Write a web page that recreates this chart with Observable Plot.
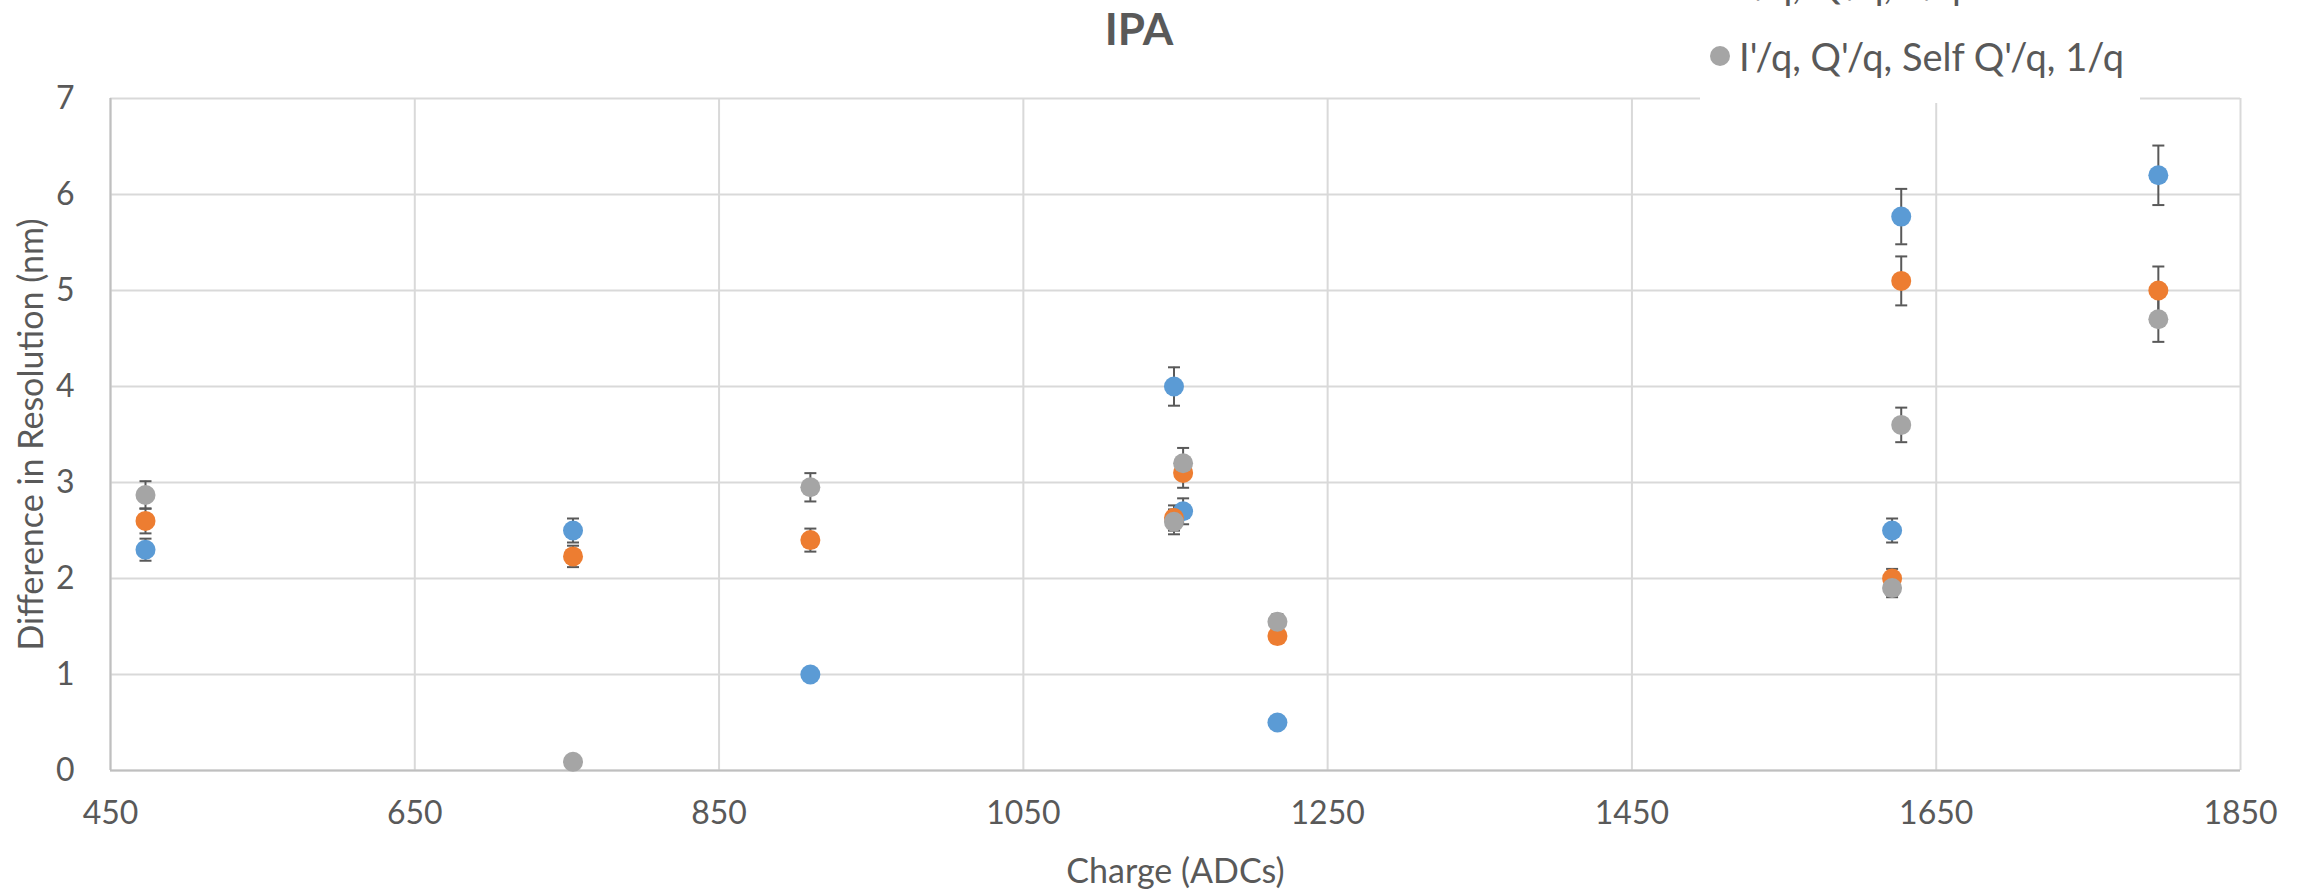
<!DOCTYPE html>
<html>
<head>
<meta charset="utf-8">
<script src="https://cdn.jsdelivr.net/npm/d3@7"></script>
<script src="https://cdn.jsdelivr.net/npm/@observablehq/plot@0.6"></script>
<style>
  html, body { margin: 0; padding: 0; background: #fff; overflow: hidden; }
  #wrap { position: relative; width: 2305px; height: 890px; overflow: hidden; font-family: Lato, "Open Sans", sans-serif; color: #595959; }
  #title { position: absolute; left: 1139px; top: 2px; transform: translateX(-50%); font-size: 44px; font-weight: bold; color: #595959; white-space: nowrap; }
  #legend { position: absolute; left: 1700px; width: 440px; background: #fff; }
  .entry { height: 72px; display: flex; align-items: center; font-size: 38px; color: #595959; white-space: nowrap; }
  .mk { width: 20px; height: 20px; border-radius: 50%; margin-left: 10px; margin-right: 9px; flex: none; }
</style>
</head>
<body>
<div id="wrap">
  <div id="chart"></div>
  <div id="title"></div>
  <div id="legend"></div>
</div>
<script>
// ---- data ----
const chartTitle = "IPA";
const xLabel = "Charge (ADCs)";
const yLabel = "Difference in Resolution (nm)";
const seriesNames = ["I'/q, Q'/q", "I'/q, Q'/q, 1/q", "I'/q, Q'/q, Self Q'/q, 1/q"];
const seriesColors = ["#5B9BD5", "#ED7D31", "#A5A5A5"];
const charge = [473, 754, 910, 1149, 1155, 1217, 1621, 1627, 1796];
const blueValues   = [2.30, 2.50, 1.00, 4.00, 2.70, 0.50, 2.50, 5.77, 6.20];
const orangeValues = [2.60, 2.23, 2.40, 2.63, 3.10, 1.40, 2.00, 5.10, 5.00];
const grayValues   = [2.87, 0.09, 2.95, 2.59, 3.20, 1.55, 1.90, 3.60, 4.70];
const errorPercent = 5; // percentage error bars
const xTicks = [450, 650, 850, 1050, 1250, 1450, 1650, 1850];
const yTicks = [0, 1, 2, 3, 4, 5, 6, 7];

// ---- build table ----
const allValues = [blueValues, orangeValues, grayValues];
const data = [];
allValues.forEach((vals, s) => {
  vals.forEach((v, i) => data.push({series: seriesNames[s], charge: charge[i], value: v,
    lo: v * (1 - errorPercent / 100), hi: v * (1 + errorPercent / 100)}));
});

const capSymbol = {
  draw(context, size) {
    context.moveTo(-6, 0);
    context.lineTo(6, 0);
  }
};

const plot = Plot.plot({
  width: 2305,
  height: 890,
  marginLeft: 110,
  marginRight: 65,
  marginTop: 98,
  marginBottom: 120,
  style: {fontFamily: "Lato, 'Open Sans', sans-serif", fontSize: "32px", color: "#595959", background: "transparent"},
  x: {domain: [450, 1850]},
  y: {domain: [0, 7]},
  color: {domain: seriesNames, range: seriesColors},
  marks: [
    Plot.gridX(xTicks, {stroke: "#d9d9d9", strokeOpacity: 1, strokeWidth: 2}),
    Plot.gridY(yTicks, {stroke: "#d9d9d9", strokeOpacity: 1, strokeWidth: 2}),
    Plot.ruleX([450], {stroke: "#bfbfbf", strokeWidth: 2}),
    Plot.ruleY([0], {stroke: "#bfbfbf", strokeWidth: 2}),
    Plot.axisX(xTicks, {tickSize: 0, tickPadding: 31, tickFormat: d3.format("d"), fontSize: 32, label: null}),
    Plot.axisX({ticks: [], label: xLabel, labelAnchor: "center", labelArrow: "none", labelOffset: 112, fontSize: 34}),
    Plot.axisY(yTicks, {tickSize: 0, tickPadding: 36, tickFormat: d3.format("d"), fontSize: 32, label: null}),
    Plot.axisY({ticks: [], label: yLabel, labelAnchor: "center", labelArrow: "none", labelOffset: 92, fontSize: 34}),
    Plot.ruleX(data, {x: "charge", y1: "lo", y2: "hi", stroke: "#595959", strokeWidth: 2}),
    Plot.dot(data, {x: "charge", y: "lo", symbol: capSymbol, stroke: "#595959", strokeWidth: 2, fill: "none", r: 6}),
    Plot.dot(data, {x: "charge", y: "hi", symbol: capSymbol, stroke: "#595959", strokeWidth: 2, fill: "none", r: 6}),
    Plot.dot(data, {x: "charge", y: "value", fill: "series", r: 10, stroke: "none"})
  ]
});
document.getElementById("chart").appendChild(plot);

document.getElementById("title").textContent = chartTitle;
const legend = document.getElementById("legend");
seriesNames.forEach((name, i) => {
  const e = document.createElement("div");
  e.className = "entry";
  const m = document.createElement("span");
  m.className = "mk";
  m.style.background = seriesColors[i];
  const t = document.createElement("span");
  t.textContent = name;
  e.appendChild(m); e.appendChild(t);
  legend.appendChild(e);
});
// legend box: bottom at y=103, last entry centred near y=58, earlier entries overflow above the page
legend.style.paddingBottom = "11px";
legend.style.top = (103 - 11 - seriesNames.length * 72) + "px";
</script>
</body>
</html>
